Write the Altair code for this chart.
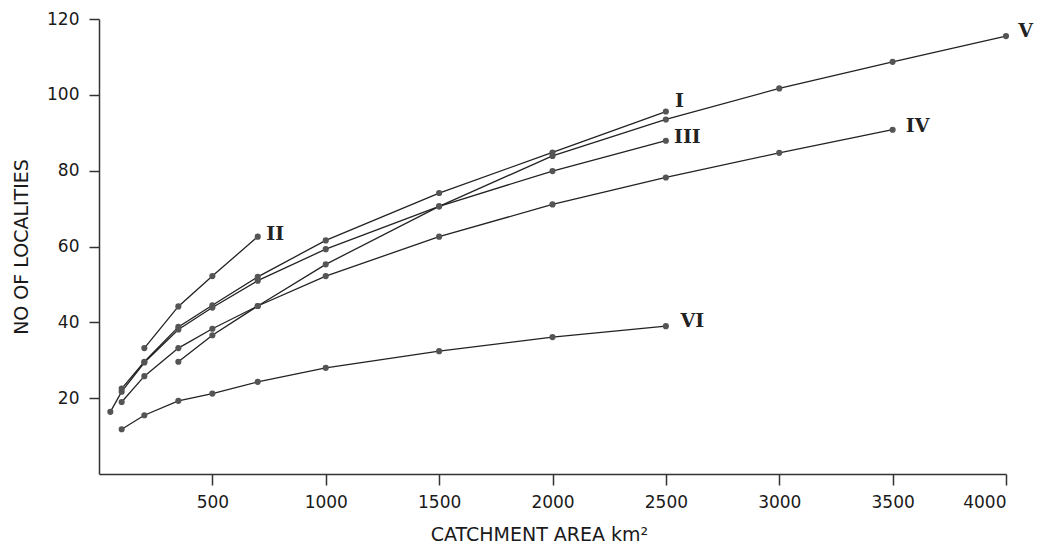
import altair as alt
import pandas as pd

# Series values (catchment area km2 -> number of localities)
I_x = [100, 200, 350, 500, 700, 1000, 1500, 2000, 2500]
I_y = [22.5, 29.6, 38.8, 44.5, 52.0, 61.6, 74.1, 84.8, 95.6]
II_x = [200, 350, 500, 700]
II_y = [33.2, 44.2, 52.2, 62.6]
III_x = [100, 200, 350, 500, 700, 1000, 1500, 2000, 2500]
III_y = [19.0, 25.8, 33.2, 38.3, 44.3, 55.3, 70.6, 79.9, 87.9]
IV_x = [350, 500, 700, 1000, 1500, 2000, 2500, 3000, 3500]
IV_y = [29.6, 36.6, 44.3, 52.2, 62.6, 71.1, 78.2, 84.7, 90.8]
V_x = [50, 100, 200, 350, 500, 700, 1000, 1500, 2000, 2500, 3000, 3500, 4000]
V_y = [16.4, 21.7, 29.4, 38.1, 43.9, 51.0, 59.3, 70.6, 83.9, 93.5, 101.7, 108.7, 115.5]
VI_x = [100, 200, 350, 500, 700, 1000, 1500, 2000, 2500]
VI_y = [11.8, 15.5, 19.3, 21.2, 24.3, 28.0, 32.4, 36.1, 39.0]

# Curve labels (Roman numerals) and where they sit
label_text = ["I", "II", "III", "IV", "V", "VI"]
label_x = [2560, 777, 2595, 3610, 4087, 2617]
label_y = [98.4, 63.4, 88.9, 91.8, 116.8, 40.3]

x_ticks = [500, 1000, 1500, 2000, 2500, 3000, 3500, 4000]
y_ticks = [20, 40, 60, 80, 100, 120]

series = {"I": (I_x, I_y), "II": (II_x, II_y), "III": (III_x, III_y),
          "IV": (IV_x, IV_y), "V": (V_x, V_y), "VI": (VI_x, VI_y)}
rows = []
for name, (xs, ys) in series.items():
    for xv, yv in zip(xs, ys):
        rows.append({"series": name, "area": xv, "n": yv})
df = pd.DataFrame(rows)
labels = pd.DataFrame({"label": label_text, "area": label_x, "n": label_y})

xscale = alt.Scale(domain=[0, 4000], nice=False, zero=True)
yscale = alt.Scale(domain=[0, 120], nice=False, zero=True)

xaxis = alt.Axis(values=x_ticks, format="d", title="CATCHMENT AREA km²", grid=False,
                 tickSize=11, labelPadding=9, titlePadding=15, titleX=440,
                 labelFont="DejaVu Sans", labelFontSize=17, titleFont="DejaVu Sans",
                 titleFontSize=19, titleFontWeight="normal", labelColor="#1a1a1a",
                 titleColor="#1a1a1a", domainColor="#333", tickColor="#333",
                 domainWidth=1.5, tickWidth=1.5)
yaxis = alt.Axis(values=y_ticks, format="d", title="NO OF LOCALITIES", grid=False,
                 tickSize=10, labelPadding=10, titlePadding=15,
                 labelFont="DejaVu Sans", labelFontSize=17, titleFont="DejaVu Sans",
                 titleFontSize=19, titleFontWeight="normal", labelColor="#1a1a1a",
                 titleColor="#1a1a1a", domainColor="#333", tickColor="#333",
                 domainWidth=1.5, tickWidth=1.5)

base = alt.Chart(df)
lines = base.mark_line(color="#222", strokeWidth=1.3).encode(
    x=alt.X("area:Q", scale=xscale, axis=xaxis),
    y=alt.Y("n:Q", scale=yscale, axis=yaxis),
    detail="series:N",
    order="area:Q",
)
points = base.mark_circle(color="#555", size=38, opacity=1).encode(
    x=alt.X("area:Q", scale=xscale),
    y=alt.Y("n:Q", scale=yscale),
)
text = alt.Chart(labels).mark_text(font="DejaVu Serif", fontWeight="bold",
                                   fontSize=19, color="#222", align="center",
                                   baseline="middle").encode(
    x=alt.X("area:Q", scale=xscale),
    y=alt.Y("n:Q", scale=yscale),
    text="label:N",
)

chart = (lines + points + text).properties(
    width=907, height=455,
    autosize=alt.AutoSizeParams(type="none"),
    padding={"left": 99, "top": 19, "right": 34, "bottom": 83},
    background="white",
).configure_view(stroke=None)

chart.save("out.html", embed_options={"renderer": "svg", "actions": False})
